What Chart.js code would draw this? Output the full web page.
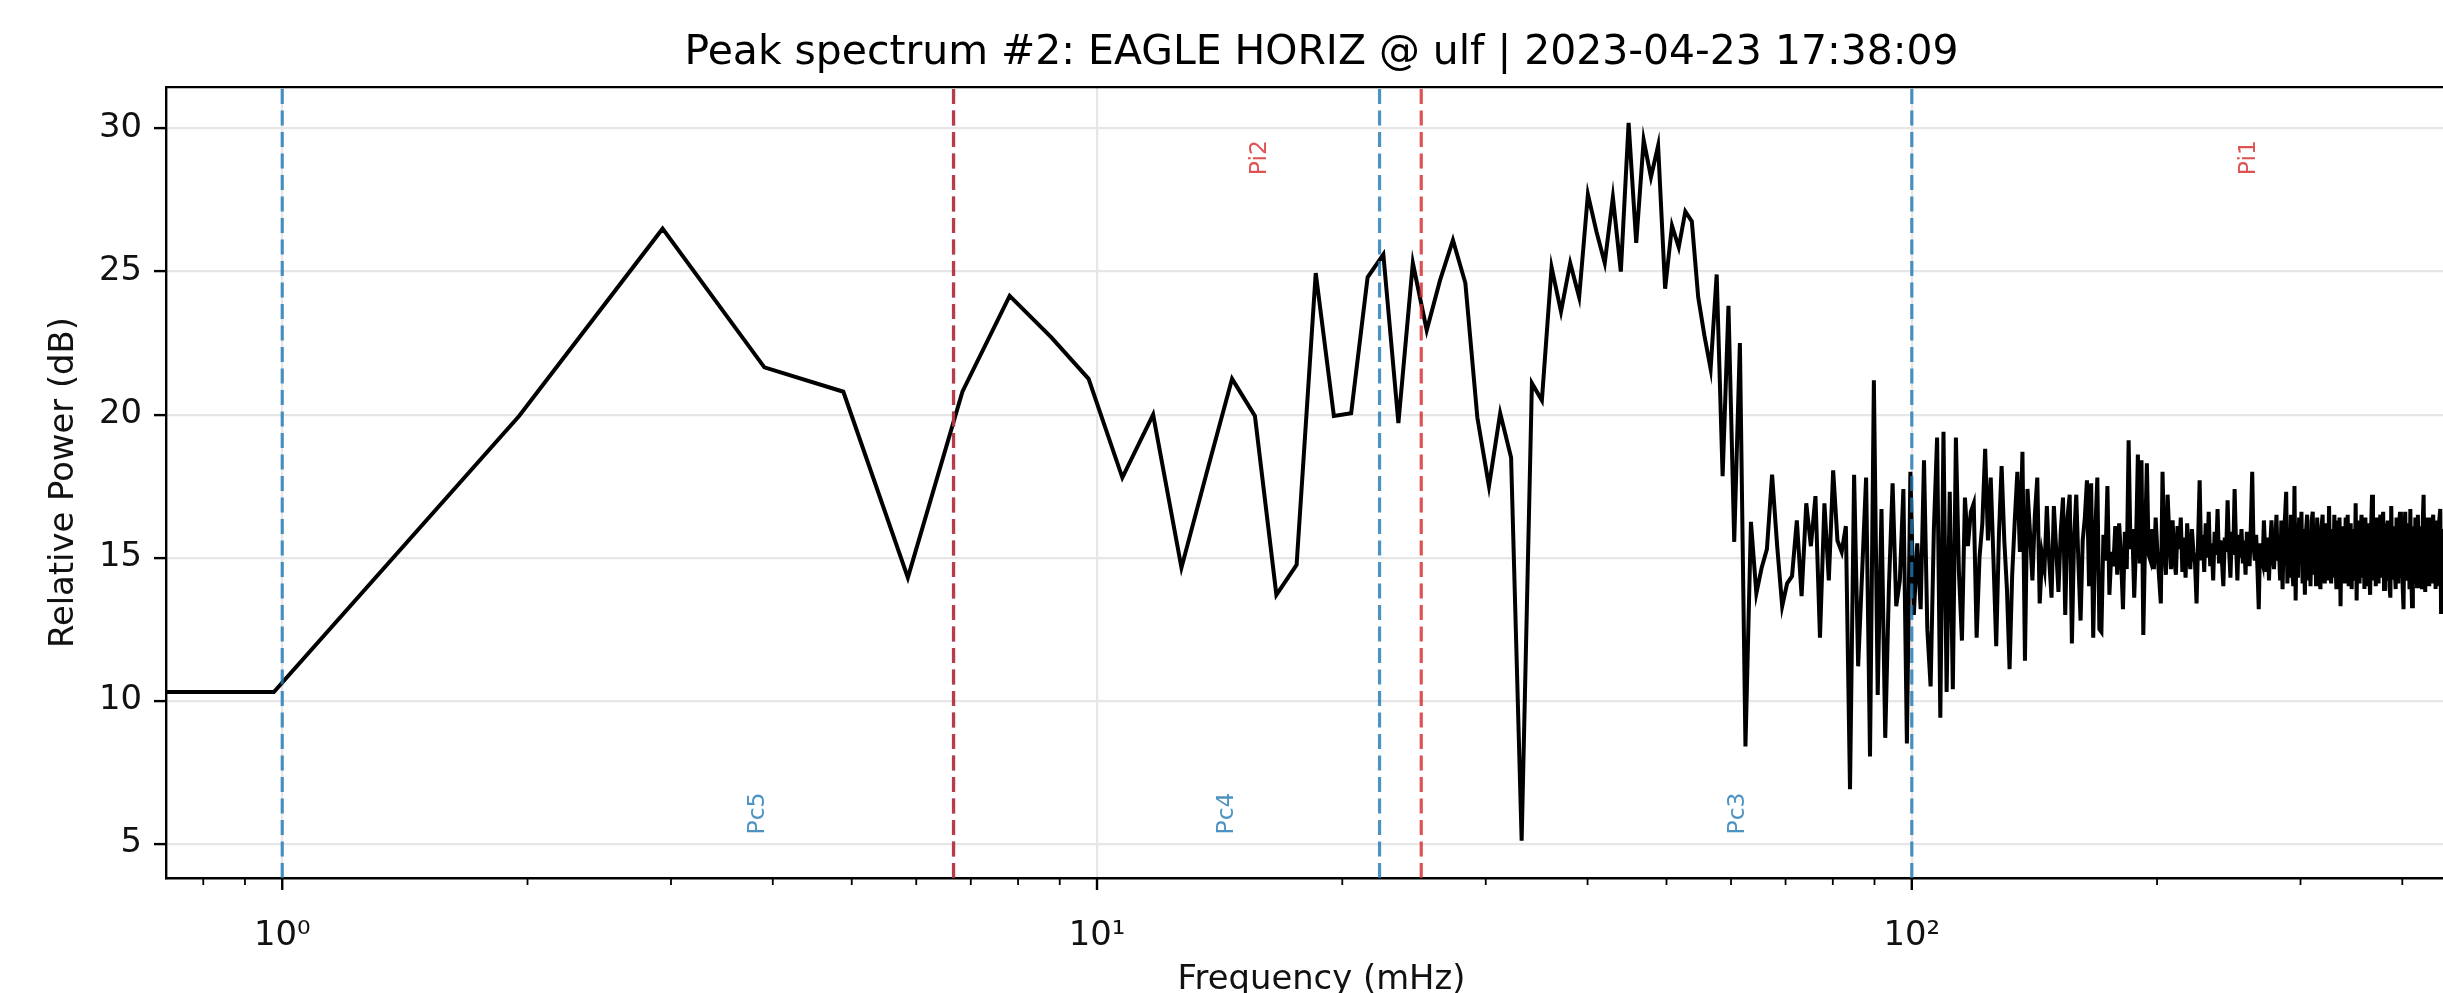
<!DOCTYPE html>
<html>
<head>
<meta charset="utf-8">
<title>Peak spectrum</title>
<script src="https://cdn.jsdelivr.net/npm/chart.js@4.4.1/dist/chart.umd.min.js"></script>
<style>
  html, body { margin: 0; padding: 0; background: #fff; overflow: hidden; }
  #wrap { width: 2515px; height: 993px; }
</style>
</head>
<body>
<div id="wrap"><canvas id="spectrum" width="2515" height="993"></canvas></div>
<script>
// FFT bin width in mHz (1 Hz sampling, 1024-point window)
var binWidth = 1000 / 1024;

// relative power per bin, dB (bin 0 = DC)
var power = [
  10.3, 10.3, 19.95, 26.5, 21.65, 20.8, 14.3, 20.8, 24.15, 22.7,
  21.25, 17.8, 20.0, 14.65, 18.1, 21.25, 19.95, 13.7, 14.75, 24.95,
  19.95, 20.05, 24.8, 25.6, 19.7, 25.3, 22.95, 24.7, 26.1, 24.6,
  19.9, 17.5, 20.05, 18.5, 5.1, 21.1, 20.5, 25.15, 23.6, 25.3,
  24.1, 27.7, 26.4, 25.3, 27.6, 25.0, 30.2, 26.0, 29.6, 28.3,
  29.4, 24.4, 26.6, 25.85, 27.1, 26.75, 24.1, 22.75, 21.6, 24.9,
  17.85, 23.8, 15.55, 22.5, 8.4, 16.25, 13.75, 14.65, 15.3, 17.9,
  15.4, 13.3, 14.1, 14.35, 16.3, 13.65, 16.9, 15.4, 17.15, 12.2,
  16.9, 14.2, 18.05, 15.6, 15.2, 16.1, 6.9, 17.9, 11.2, 14.5,
  17.8, 8.05, 21.2, 10.2, 16.7, 8.7, 14.0, 17.6, 13.3, 14.2,
  17.4, 8.5, 18.0, 13.0, 15.5, 13.2, 18.4, 12.5, 10.5, 16.0,
  19.2, 9.4, 19.4, 10.3, 17.3, 10.4, 19.2, 14.5, 12.1, 17.1,
  15.4, 16.6, 16.9, 12.2, 15.0, 16.2, 18.8, 15.6, 17.8, 14.9,
  11.9, 15.8, 18.2, 15.6, 13.9, 11.1, 14.4, 16.3, 18.0, 15.2,
  18.7, 11.4, 17.4, 15.9, 14.2, 16.5, 17.8, 13.4, 15.1, 14.6,
  16.8, 14.9, 13.6, 16.8, 15.3, 13.8, 15.9, 17.1, 13.0, 16.4,
  17.2, 12.0, 15.7, 17.2, 14.8, 12.8, 15.6, 16.4, 17.7, 14.0,
  17.6, 12.2, 15.9, 17.8, 12.5, 12.4, 15.8, 14.9, 17.5, 13.7,
  15.2, 14.7, 16.1, 14.4, 16.2, 15.0, 13.2, 15.9, 14.6, 19.1,
  15.3, 16.0, 13.6, 15.5, 18.6, 14.8, 18.4, 12.3, 15.6, 18.3,
  15.1, 14.9, 16.0, 14.6, 16.4, 15.2, 14.3, 13.4, 18.0, 15.4,
  14.4, 17.2, 15.8, 14.6, 16.3, 15.0, 14.4, 16.1, 15.3, 16.4,
  14.5, 15.7, 14.3, 16.2, 15.1, 14.6, 16.0, 15.2, 14.8, 13.4,
  15.6, 17.7, 14.9, 15.8, 14.5, 16.2, 15.0, 16.6, 14.7, 15.5,
  14.2, 15.9, 15.1, 16.7, 14.8, 15.6, 14.9, 14.0, 15.7, 15.2,
  17.0, 15.3, 14.3, 15.9, 15.1, 17.4, 15.5, 14.2, 15.8, 15.0,
  16.0, 14.8, 15.6, 14.4, 15.9, 15.3, 14.7, 16.2, 18.0, 15.4,
  14.9, 15.8, 14.6, 13.2, 15.5, 15.0, 14.8, 16.3, 15.2, 14.5,
  15.7, 14.2, 15.4, 16.3, 15.1, 14.6, 15.5, 16.5, 14.9, 15.3,
  14.2, 16.3, 13.9, 15.8, 16.4, 17.3, 14.1, 16.0, 14.3, 16.5,
  14.6, 14.0, 17.5, 13.5, 16.2, 14.3, 16.4, 14.8, 16.6, 14.1,
  16.0, 13.7, 15.9, 16.5, 14.2, 15.9, 14.0, 16.3, 16.6, 14.4,
  15.8, 14.0, 16.4, 15.0, 14.2, 13.9, 16.1, 16.5, 14.4, 14.1,
  16.2, 15.0, 14.2, 16.8, 14.6, 14.1, 16.0, 14.3, 16.5, 15.0,
  13.9, 16.3, 14.5, 16.4, 13.3, 16.1, 14.4, 15.9, 14.1, 16.4,
  14.6, 16.5, 14.0, 15.8, 16.2, 13.9, 16.0, 14.5, 14.2, 16.9,
  13.5, 16.0, 16.3, 14.1, 15.7, 16.5, 14.3, 16.1, 13.9, 16.4,
  14.6, 14.0, 16.2, 14.5, 13.7, 16.0, 17.2, 14.2, 15.9, 16.3,
  14.0, 16.4, 14.6, 14.1, 16.1, 16.5, 14.3, 15.8, 16.6, 13.9,
  16.2, 14.5, 14.2, 16.3, 15.7, 14.0, 13.6, 16.8, 14.7, 14.3,
  16.1, 14.6, 13.9, 16.4, 14.5, 14.1, 16.2, 16.6, 14.3, 15.9,
  14.0, 13.2, 16.0, 16.6, 14.4, 14.2, 16.2, 15.7, 13.9, 16.7,
  14.6, 13.3, 16.1, 14.5, 14.1, 16.4, 15.8, 14.0, 16.5, 14.6,
  14.2, 16.1, 14.5, 13.9, 16.3, 17.2, 14.6, 13.8, 16.0, 16.4,
  14.3, 15.9, 14.0, 16.4, 14.6, 14.1, 16.2, 16.5, 14.2, 15.8,
  13.9, 16.3, 14.5, 14.0, 16.1, 16.4, 16.7, 13.1, 15.9, 14.4,
  14.1, 16.0, 14.3, 16.4, 14.6, 14.0
];

// ULF pulsation bands (mHz)
var bandNames = ['Pc5', 'Pc4', 'Pc3', 'Pi2', 'Pi1'];
var bandLow = [1, 1000 / 150, 1000 / 45, 1000 / 150, 25];
var bandHigh = [1000 / 150, 1000 / 45, 100, 25, 1000];
var bandKind = ['Pc', 'Pc', 'Pc', 'Pi', 'Pi'];
var bandColor = { Pc: 'rgba(31,119,180,0.8)', Pi: 'rgba(214,39,40,0.8)' };

// decade tick labels
var tickValues = [1, 10, 100];
var tickLabels = ['10\u2070', '10\u00b9', '10\u00b2'];

var xMin = 0.72, xMax = 494;
var yMin = 3.8, yMax = 31.45;

var fontFamily = '"DejaVu Sans", "Liberation Sans", sans-serif';
var gridColor = '#e6e6e6';

Chart.defaults.font.family = fontFamily;

function isDecade(v) {
  var e = Math.log10(v);
  return Math.abs(e - Math.round(e)) < 1e-6;
}

function mantissa(v) {
  return v / Math.pow(10, Math.floor(Math.log10(v) + 1e-9));
}

// line from DC is clipped at the left edge like matplotlib's log clip
var points = power.map(function (p, i) {
  return { x: Math.max(i * binWidth, 1e-3), y: p };
});

var overlay = {
  id: 'overlay',
  afterDatasetsDraw: function (chart) {
    var ctx = chart.ctx, a = chart.chartArea, x = chart.scales.x;
    var h = a.bottom - a.top;
    ctx.save();
    ctx.beginPath();
    ctx.rect(a.left, a.top, a.right - a.left, h);
    ctx.clip();

    // band edges: Pc first, Pi on top
    ['Pc', 'Pi'].forEach(function (kind) {
      var edges = [];
      bandNames.forEach(function (n, k) {
        if (bandKind[k] !== kind) return;
        [bandLow[k], bandHigh[k]].forEach(function (v) {
          if (edges.indexOf(v) < 0) edges.push(v);
        });
      });
      ctx.strokeStyle = bandColor[kind];
      ctx.lineWidth = 3.2;
      ctx.setLineDash([15, 6.5]);
      edges.forEach(function (v) {
        if (v < x.min || v > x.max) return;
        var px = x.getPixelForValue(v);
        ctx.beginPath();
        ctx.moveTo(px, a.bottom);
        ctx.lineTo(px, a.top);
        ctx.stroke();
      });
    });
    ctx.setLineDash([]);

    // band names, rotated
    ctx.font = '23.5px ' + fontFamily;
    ctx.textBaseline = 'middle';
    bandNames.forEach(function (n, k) {
      var lo = Math.max(bandLow[k], x.min), hi = Math.min(bandHigh[k], x.max);
      var px = x.getPixelForValue((lo + hi) / 2);
      ctx.save();
      ctx.fillStyle = bandColor[bandKind[k]];
      if (bandKind[k] === 'Pc') {
        ctx.translate(px, a.bottom - 0.055 * h);
        ctx.textAlign = 'left';
      } else {
        ctx.translate(px, a.top + 0.067 * h);
        ctx.textAlign = 'right';
      }
      ctx.rotate(-Math.PI / 2);
      ctx.fillText(n, 0, 0);
      ctx.restore();
    });
    ctx.restore();
  },
  afterDraw: function (chart) {
    var ctx = chart.ctx, a = chart.chartArea, x = chart.scales.x;
    ctx.save();
    ctx.strokeStyle = '#000';
    // x tick marks, long on decades, short in between
    x.ticks.forEach(function (t) {
      if (t.value < x.min || t.value > x.max) return;
      var m = mantissa(t.value);
      if (Math.abs(m - Math.round(m)) > 1e-6) return;
      var major = Math.round(m) === 1;
      var px = x.getPixelForValue(t.value);
      ctx.lineWidth = major ? 2.4 : 1.8;
      ctx.beginPath();
      ctx.moveTo(px, a.bottom);
      ctx.lineTo(px, a.bottom + (major ? 12 : 7));
      ctx.stroke();
    });
    // top and right spines
    ctx.lineWidth = 2.4;
    ctx.beginPath();
    ctx.moveTo(a.left, a.top);
    ctx.lineTo(a.right, a.top);
    ctx.lineTo(a.right, a.bottom);
    ctx.stroke();
    ctx.restore();
  }
};

new Chart(document.getElementById('spectrum'), {
  type: 'line',
  data: {
    datasets: [{
      data: points,
      borderColor: '#000',
      borderWidth: 4,
      pointRadius: 0,
      tension: 0,
      fill: false,
      clip: 0
    }]
  },
  options: {
    responsive: false,
    animation: false,
    devicePixelRatio: 1,
    events: [],
    layout: { padding: 0 },
    plugins: {
      legend: { display: false },
      tooltip: { enabled: false },
      title: {
        display: true,
        fullSize: false,
        text: 'Peak spectrum #2: EAGLE HORIZ @ ulf | 2023-04-23 17:38:09',
        color: '#000',
        font: { size: 40.9, weight: 'normal', lineHeight: 1.2 },
        padding: { top: 29, bottom: 9 }
      }
    },
    scales: {
      x: {
        type: 'logarithmic',
        bounds: 'data',
        min: xMin,
        max: xMax,
        afterFit: function (s) { s.height = 115; },
        grid: {
          color: function (c) {
            return (c.tick && isDecade(c.tick.value)) ? gridColor : 'rgba(0,0,0,0)';
          },
          lineWidth: 2.2,
          drawTicks: false
        },
        border: { display: true, color: '#000', width: 2.4 },
        ticks: {
          autoSkip: false,
          maxRotation: 0,
          minRotation: 0,
          padding: 38,
          color: '#111',
          font: { size: 33.8 },
          callback: function (v) {
            for (var k = 0; k < tickValues.length; k++) {
              if (Math.abs(v - tickValues[k]) < 1e-6 * tickValues[k]) return tickLabels[k];
            }
            return '';
          }
        },
        title: {
          display: true,
          text: 'Frequency (mHz)',
          color: '#111',
          font: { size: 33.8, lineHeight: 0.6 },
          padding: { top: 0, bottom: 3 }
        }
      },
      y: {
        type: 'linear',
        min: yMin,
        max: yMax,
        afterFit: function (s) { s.width = 166; },
        grid: {
          color: gridColor,
          lineWidth: 2.2,
          drawTicks: true,
          tickLength: 12,
          tickColor: '#000',
          tickWidth: 2.4
        },
        border: { display: true, color: '#000', width: 2.4 },
        ticks: {
          stepSize: 5,
          includeBounds: false,
          padding: 12,
          color: '#111',
          font: { size: 33.8 }
        },
        title: {
          display: true,
          text: 'Relative Power (dB)',
          color: '#111',
          font: { size: 33.8, lineHeight: 1.2 },
          padding: { top: 43.7, bottom: 0 }
        }
      }
    }
  },
  plugins: [overlay]
});
</script>
</body>
</html>
